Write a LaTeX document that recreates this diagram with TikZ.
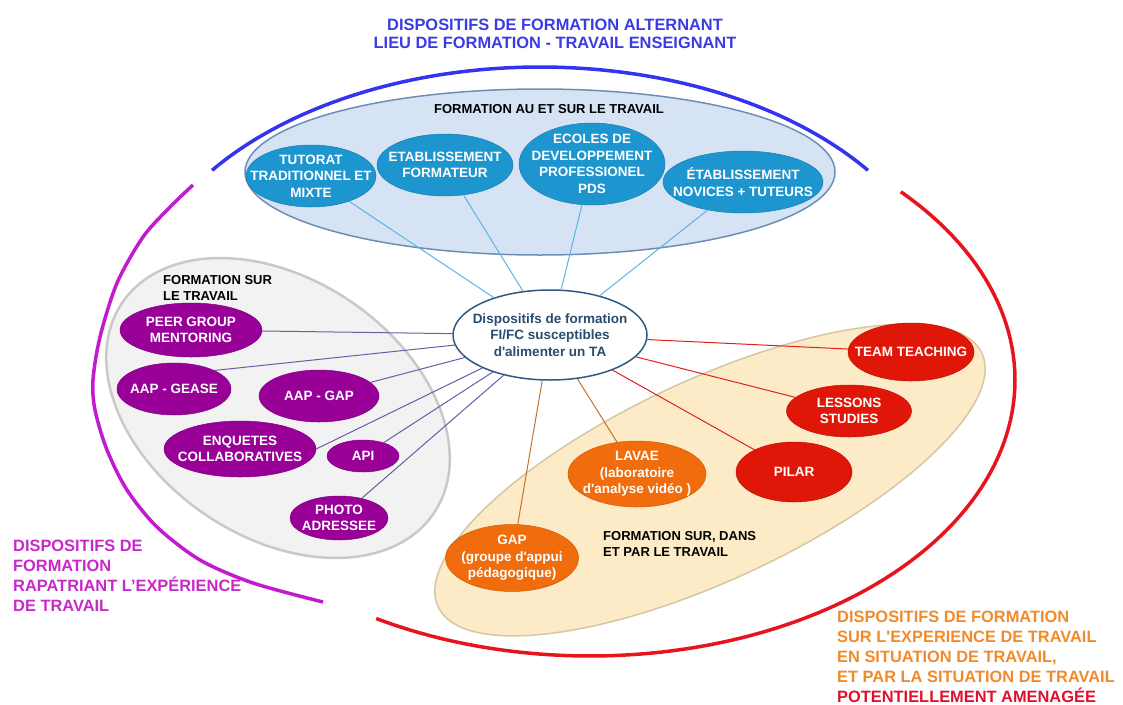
\documentclass[tikz,border=0pt]{standalone}
\usepackage{fontspec}
\setmainfont{Liberation Sans}[Ligatures=TeXOff]
\usetikzlibrary{shapes.geometric}

\definecolor{titleblue}{HTML}{3B3BE6}
\definecolor{arcblue}{HTML}{3434F0}
\definecolor{arcmag}{HTML}{C21BCF}
\definecolor{arcred}{HTML}{E8141C}
\definecolor{txtmag}{HTML}{C828C8}
\definecolor{txtorange}{HTML}{F28A2A}
\definecolor{txtred}{HTML}{E0102A}
\definecolor{nodeblue}{HTML}{1D95CE}
\definecolor{nodepurple}{HTML}{980098}
\definecolor{nodeorange}{HTML}{F06C0C}
\definecolor{nodered}{HTML}{E01608}
\definecolor{centreline}{HTML}{2E5A82}
\definecolor{centretxt}{HTML}{2A4B70}
\definecolor{lineblue}{HTML}{5CB4E0}
\definecolor{linepurple}{HTML}{6A5DA8}
\definecolor{lineorange}{HTML}{C27326}
\definecolor{linered}{HTML}{E0201C}
\definecolor{regblue}{HTML}{D5E3F5}
\definecolor{regblueline}{HTML}{6E8DB5}
\definecolor{reggray}{HTML}{F2F2F2}
\definecolor{reggrayline}{HTML}{C9C9C9}
\definecolor{regtan}{HTML}{FDEBC8}
\definecolor{regtanline}{HTML}{D5C7A2}

\begin{document}
\begin{tikzpicture}[x=1pt, y=-1pt,
        region/.style={ellipse, inner sep=0pt},
        blob/.style={ellipse, inner sep=0pt, fill=#1, draw=#1!85!black, line width=0.5pt},
        txt/.style={text=white, align=center, font=\fontsize{13.5}{16.5}\selectfont\bfseries},
        lbl/.style={label={[txt]center:#1}},
        link/.style={line width=1pt, draw=#1},
        tag/.style={anchor=north west, inner sep=0pt, align=left, font=\fontsize{13}{16.5}\selectfont\bfseries},
        big/.style={anchor=north west, inner sep=0pt, align=left, font=\fontsize{16.4}{20}\selectfont\bfseries}]
        \useasboundingbox (0,0) rectangle (1123,704);

        % --- Draw outer arcs ---
        \draw[arcblue, line width=3.5pt] plot[domain=-143.5:-36.5, samples=80] ({540+408*cos(\x)}, {322+255*sin(\x)});
        \draw[arcred, line width=3.5pt] plot[domain=-43:120.2, samples=100] ({590+425*cos(\x)}, {380+276*sin(\x)});
        \draw[arcmag, line width=3.5pt] plot[smooth] coordinates {(193,185) (170,207) (143,237) (117,283) (100,337) (93,380) (95,410) (107,450) (127,490) (157,527) (200,560) (253,583) (323,602)};
        % ---

        % --- Draw regions ---
        \node[region, fill=regblue, draw=regblueline, line width=1.5pt, minimum width=590pt, minimum height=166pt] (fast) at (540,172) {};
        \node[region, fill=reggray, draw=reggrayline, line width=2.5pt, minimum width=376pt, minimum height=258pt, rotate=-34] (fst) at (278,408) {};
        \node[region, fill=regtan, draw=regtanline, line width=1.5pt, minimum width=600pt, minimum height=200pt, rotate=25] (fsdp) at (710,480) {};
        \node[tag, anchor=center] (fastlbl) at (549,109) {FORMATION AU ET SUR LE TRAVAIL};
        \node[tag] (fstlbl) at (163,275) {FORMATION SUR\\LE TRAVAIL};
        \node[tag] (fsdplbl) at (603,531) {FORMATION SUR, DANS\\ET PAR LE TRAVAIL};
        % ---

        % --- Draw central node ---
        \node[ellipse, inner sep=0pt, fill=white, draw=centreline, line width=1.5pt, minimum width=194pt, minimum height=90pt,
              label={[txt, text=centretxt]center:Dispositifs de formation\\FI/FC susceptibles\\d'alimenter un TA}] (centre) at (550,335) {};
        % ---

        % --- Draw blue nodes ---
        \node[blob=nodeblue, minimum width=130pt, minimum height=62pt, lbl={TUTORAT\\TRADITIONNEL ET\\MIXTE}] (tutorat) at (311,176) {};
        \node[blob=nodeblue, minimum width=136pt, minimum height=62pt, lbl={ETABLISSEMENT\\FORMATEUR}] (etab) at (445,165) {};
        \node[blob=nodeblue, minimum width=146pt, minimum height=82pt, lbl={ECOLES DE\\DEVELOPPEMENT\\PROFESSIONEL\\PDS}] (ecoles) at (592,164) {};
        \node[blob=nodeblue, minimum width=160pt, minimum height=62pt, lbl={ÉTABLISSEMENT\\NOVICES + TUTEURS}] (novices) at (743,182) {};
        % ---

        % --- Draw purple nodes ---
        \node[blob=nodepurple, minimum width=142pt, minimum height=54pt, lbl={PEER GROUP\\MENTORING}] (peer) at (191,330) {};
        \node[blob=nodepurple, minimum width=114pt, minimum height=52pt, lbl={AAP - GEASE}] (gease) at (174,389) {};
        \node[blob=nodepurple, minimum width=120pt, minimum height=52pt, lbl={AAP - GAP}] (aapgap) at (319,396) {};
        \node[blob=nodepurple, minimum width=152pt, minimum height=56pt, lbl={ENQUETES\\COLLABORATIVES}] (enquetes) at (240,449) {};
        \node[blob=nodepurple, minimum width=72pt, minimum height=32pt, lbl={API}] (api) at (363,456) {};
        \node[blob=nodepurple, minimum width=98pt, minimum height=44pt, lbl={PHOTO\\ADRESSEE}] (photo) at (339,518) {};
        % ---

        % --- Draw orange and red nodes ---
        \node[blob=nodeorange, minimum width=133pt, minimum height=67pt, lbl={GAP\\(groupe d'appui\\pédagogique)}] (gap) at (512,558) {};
        \node[blob=nodeorange, minimum width=138pt, minimum height=66pt, lbl={LAVAE\\(laboratoire\\d'analyse vidéo )}] (lavae) at (637,474) {};
        \node[blob=nodered, minimum width=116pt, minimum height=60pt, lbl={PILAR}] (pilar) at (794,472) {};
        \node[blob=nodered, minimum width=125pt, minimum height=52pt, lbl={LESSONS\\STUDIES}] (lessons) at (849,411) {};
        \node[blob=nodered, minimum width=126pt, minimum height=58pt, lbl={TEAM TEACHING}] (team) at (911,352) {};
        % ---

        % --- Draw links ---
        \draw[link=lineblue] (tutorat) -- (centre);
        \draw[link=lineblue] (etab) -- (centre);
        \draw[link=lineblue] (ecoles) -- (centre);
        \draw[link=lineblue] (novices) -- (centre);
        \draw[link=linepurple] (peer) -- (centre);
        \draw[link=linepurple] (gease.north east) -- (centre);
        \draw[link=linepurple] (aapgap) -- (centre);
        \draw[link=linepurple] (enquetes.east) -- (centre);
        \draw[link=linepurple] (api) -- (centre);
        \draw[link=linepurple] (photo) -- (centre);
        \draw[link=lineorange] (gap) -- (centre);
        \draw[link=lineorange] (lavae) -- (centre);
        \draw[link=linered] (pilar) -- (centre);
        \draw[link=linered] (lessons) -- (centre);
        \draw[link=linered] (team) -- (centre);
        % ---

        % --- Draw titles ---
        \node[big, anchor=center, align=center, text=titleblue, font=\fontsize{16.4}{17.5}\selectfont\bfseries] (titre) at (555,34) {DISPOSITIFS DE FORMATION ALTERNANT\\LIEU DE FORMATION - TRAVAIL ENSEIGNANT};
        \node[big, text=txtmag] (rapatrie) at (13,540) {DISPOSITIFS DE\\FORMATION\\RAPATRIANT L’EXPÉRIENCE\\DE TRAVAIL};
        \node[big, text=txtorange] (surexp) at (837,611) {DISPOSITIFS DE FORMATION\\SUR L'EXPERIENCE DE TRAVAIL\\EN SITUATION DE TRAVAIL,\\ET PAR LA SITUATION DE TRAVAIL\\\textcolor{txtred}{POTENTIELLEMENT AMENAGÉE}};
        % ---
    \end{tikzpicture}
\end{document}
